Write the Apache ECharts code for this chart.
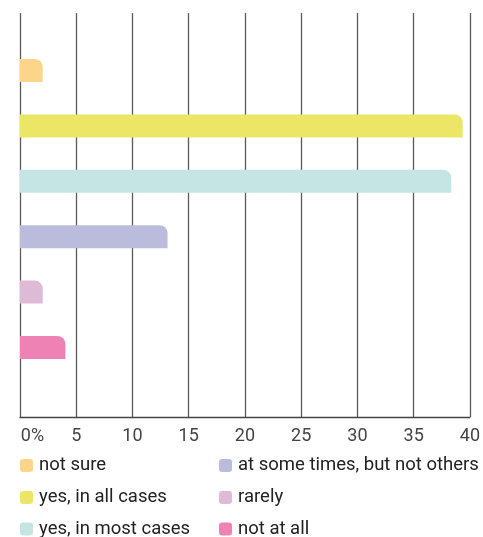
<!DOCTYPE html>
<html>
<head>
<meta charset="utf-8">
<script src="https://cdn.jsdelivr.net/npm/echarts@6/dist/echarts.min.js"></script>
<style>
  html, body { margin: 0; padding: 0; background: #fff; }
  #chart { width: 483px; height: 537px; }
</style>
</head>
<body>
<div id="chart"></div>
<script>
// Answer categories, top to bottom
const categories = [
  'not sure',
  'yes, in all cases',
  'yes, in most cases',
  'at some times, but not others',
  'rarely',
  'not at all'
];
// Share of respondents, in percent
const values = [2, 39, 38, 13, 2, 4];
const colors = ['#FDD58A', '#EBE666', '#C5E5E4', '#BBBBDB', '#DFBAD6', '#EF82B5'];
const tickLabels = ['0%', '5', '10', '15', '20', '25', '30', '35', '40'];

const FONT = 'Roboto';
const FS = 18;

// One series per answer so each gets its own legend entry; stacking keeps them on one bar slot
const series = categories.map((name, i) => ({
  name: name,
  type: 'bar',
  xAxisIndex: 1,
  yAxisIndex: 1,
  stack: 'answers',
  barWidth: 23,
  itemStyle: { color: colors[i], borderRadius: [0, 8, 0, 0] },
  data: categories.map((c, j) => (j === i ? values[i] : '-'))
}));

// Legend laid out as two columns of three entries
const rowTops = [456, 488, 519.5];
const colLefts = [20, 219];
const legends = categories.map((name, i) => ({
  data: [name],
  left: colLefts[Math.floor(i / 3)],
  top: rowTops[i % 3],
  padding: 0,
  itemWidth: 13, itemHeight: 13, icon: 'roundRect',
  textStyle: { fontSize: 18.5, color: '#222', fontFamily: FONT, padding: [0, 0, 0, 1] }
}));

const chart = echarts.init(document.getElementById('chart'), null, { renderer: 'canvas' });
chart.setOption({
  animation: false,
  textStyle: { fontFamily: FONT },
  grid: [
    // frame with the vertical gridlines
    { left: 20, right: 9, top: 13, bottom: 120 },
    // band holding the bars
    { left: 20, right: 9, top: 42.8, bottom: 161.8 }
  ],
  xAxis: [
    {
      gridIndex: 0, type: 'value', min: 0, max: 40, interval: 5,
      axisLine: { show: true, lineStyle: { color: '#444', width: 1.3 } },
      axisTick: { show: false },
      splitLine: { show: true, lineStyle: { color: '#5a5a5a', width: 1.3 } },
      axisLabel: {
        margin: 10, color: '#444', fontSize: FS, fontFamily: FONT,
        formatter: v => {
          const t = tickLabels[Math.round(v / 5)];
          return v === 0 ? '{z|' + t + '}' : t;
        },
        rich: { z: { padding: [0, 0, 0, 25], fontSize: FS, color: '#444', fontFamily: FONT } }
      }
    },
    { gridIndex: 1, type: 'value', min: 0, max: 40, show: false }
  ],
  yAxis: [
    { gridIndex: 0, type: 'value', show: false },
    {
      gridIndex: 1, type: 'category', inverse: true, data: categories, show: false
    }
  ],
  legend: legends,
  series: series
});
</script>
</body>
</html>
